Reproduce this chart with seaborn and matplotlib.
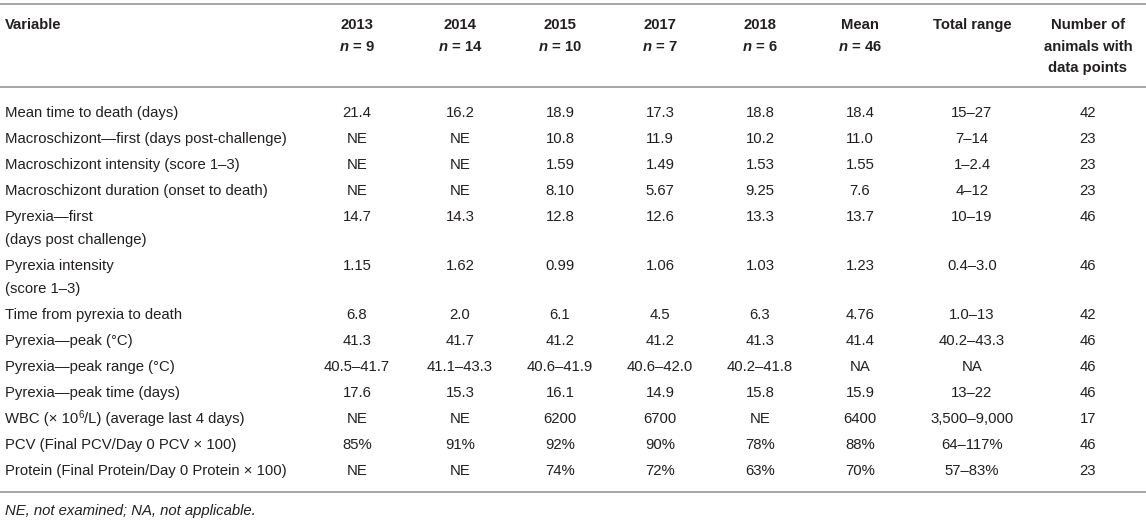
import matplotlib
matplotlib.use("Agg")
import matplotlib.pyplot as plt
import seaborn as sns

# table content
variables = [
    "Mean time to death (days)",
    "Macroschizont\u2014first (days post-challenge)",
    "Macroschizont intensity (score 1\u20133)",
    "Macroschizont duration (onset to death)",
    "Pyrexia\u2014first\n(days post challenge)",
    "Pyrexia intensity\n(score 1\u20133)",
    "Time from pyrexia to death",
    "Pyrexia\u2014peak (\u00b0C)",
    "Pyrexia\u2014peak range (\u00b0C)",
    "Pyrexia\u2014peak time (days)",
    "WBC (\u00d7 10^6/L) (average last 4 days)",
    "PCV (Final PCV/Day 0 PCV \u00d7 100)",
    "Protein (Final Protein/Day 0 Protein \u00d7 100)",
]
years = ["2013", "2014", "2015", "2017", "2018", "Mean"]
n_animals = [9, 14, 10, 7, 6, 46]

col_2013 = ["21.4", "NE", "NE", "NE", "14.7", "1.15", "6.8", "41.3", "40.5\u201341.7", "17.6", "NE", "85%", "NE"]
col_2014 = ["16.2", "NE", "NE", "NE", "14.3", "1.62", "2.0", "41.7", "41.1\u201343.3", "15.3", "NE", "91%", "NE"]
col_2015 = ["18.9", "10.8", "1.59", "8.10", "12.8", "0.99", "6.1", "41.2", "40.6\u201341.9", "16.1", "6200", "92%", "74%"]
col_2017 = ["17.3", "11.9", "1.49", "5.67", "12.6", "1.06", "4.5", "41.2", "40.6\u201342.0", "14.9", "6700", "90%", "72%"]
col_2018 = ["18.8", "10.2", "1.53", "9.25", "13.3", "1.03", "6.3", "41.3", "40.2\u201341.8", "15.8", "NE", "78%", "63%"]
col_mean = ["18.4", "11.0", "1.55", "7.6", "13.7", "1.23", "4.76", "41.4", "NA", "15.9", "6400", "88%", "70%"]
total_range = ["15\u201327", "7\u201314", "1\u20132.4", "4\u201312", "10\u201319", "0.4\u20133.0", "1.0\u201313",
               "40.2\u201343.3", "NA", "13\u201322", "3,500\u20139,000", "64\u2013117%", "57\u201383%"]
n_points = ["42", "23", "23", "23", "46", "46", "42", "46", "46", "46", "17", "46", "23"]
footnote = "NE, not examined; NA, not applicable."

sns.set_theme(style="white")
plt.rcParams["font.family"] = ["Liberation Sans", "DejaVu Sans"]
plt.rcParams["mathtext.fontset"] = "custom"
plt.rcParams["mathtext.rm"] = "Liberation Sans"
plt.rcParams["mathtext.it"] = "Liberation Sans:italic"
plt.rcParams["mathtext.bf"] = "Liberation Sans:bold"
plt.rcParams["mathtext.bfit"] = "Liberation Sans:italic:bold"
plt.rcParams["mathtext.default"] = "regular"

W, H = 1146, 520
fig = plt.figure(figsize=(W / 100, H / 100), dpi=100)
ax = fig.add_axes([0, 0, 1, 1])
ax.set_xlim(0, W)
ax.set_ylim(H, 0)
ax.axis("off")
renderer = fig.canvas.get_renderer()

txt = "#231f20"
rule = "#a6a6a6"
fs = 10.7
base = 5  # baseline offset below the row centre, px

# x centres of the value columns
col_x = [357, 460, 560, 660, 760, 860]
range_x = 972
count_x = 1088
left_x = 5

# horizontal rules
for y in [4, 87, 492]:
    ax.axhline(y, color=rule, lw=1.4)


def cell(x, y, s, ha="center", size=fs, **kw):
    return ax.text(x, y + base, s, ha=ha, va="baseline", fontsize=size, color=txt, **kw)


def label(x, y, s):
    # plain text, with "^" marking a superscript piece
    if "^" not in s:
        cell(x, y, s, ha="left")
        return
    head, rest = s.split("^", 1)
    sup, tail = rest[0], rest[1:]
    t = cell(x, y, head, ha="left")
    x1 = ax.transData.inverted().transform(t.get_window_extent(renderer).p1)[0]
    t = cell(x1 + 0.5, y - 5, sup, ha="left", size=fs * 0.65)
    x2 = ax.transData.inverted().transform(t.get_window_extent(renderer).p1)[0]
    cell(x2 + 0.3, y, tail, ha="left")


# header
hy = [24, 46, 67]
cell(left_x, hy[0], "Variable", ha="left", fontweight="bold")
for x, yr, n in zip(col_x, years, n_animals):
    cell(x, hy[0], yr, fontweight="bold")
    cell(x, hy[1], r"$\mathbfit{n}$ = " + str(n), fontweight="bold")
cell(range_x, hy[0], "Total range", fontweight="bold")
for y, line in zip(hy, ["Number of", "animals with", "data points"]):
    cell(count_x, y, line, fontweight="bold")

# body rows
columns = [col_2013, col_2014, col_2015, col_2017, col_2018, col_mean]
line_h = 23
gap = 26
y = 112
for i, var in enumerate(variables):
    lines = var.split("\n")
    for k, part in enumerate(lines):
        label(left_x, y + k * line_h, part)
    for x, col in zip(col_x, columns):
        cell(x, y, col[i])
    cell(range_x, y, total_range[i])
    cell(count_x, y, n_points[i])
    y += (len(lines) - 1) * line_h + gap

cell(left_x, 510, footnote, ha="left", style="italic")

fig.savefig("out.png", dpi=100)
